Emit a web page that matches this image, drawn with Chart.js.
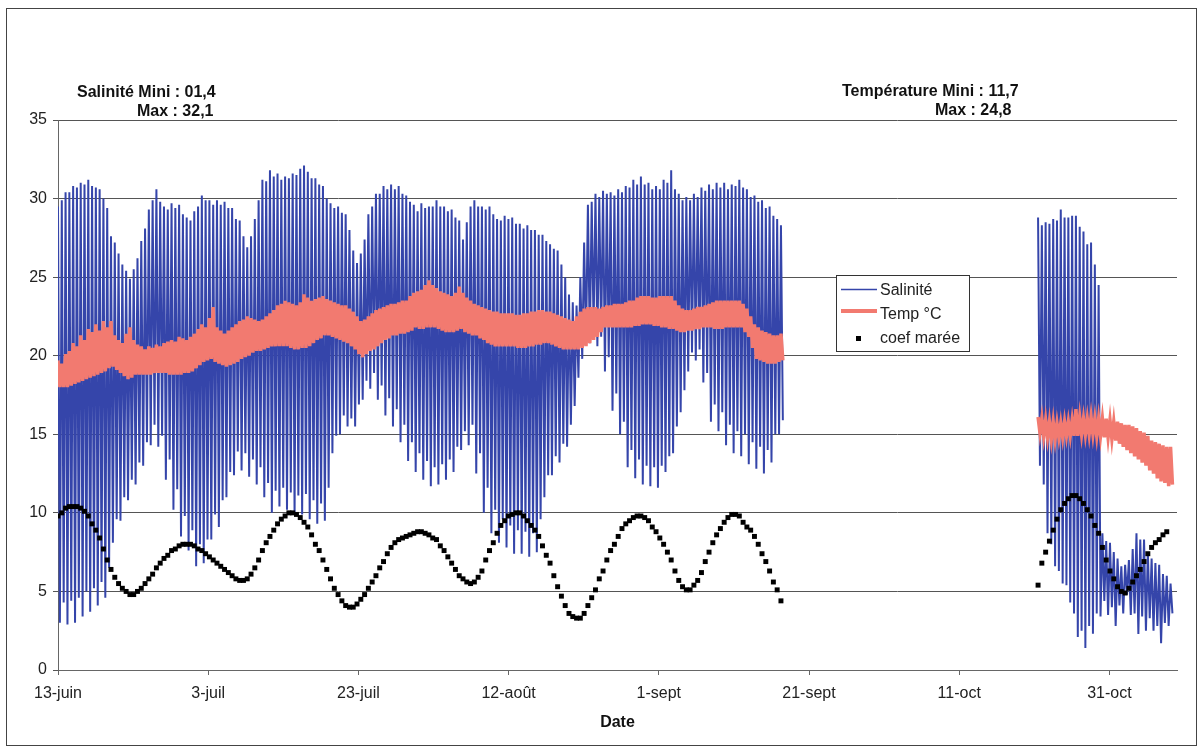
<!DOCTYPE html>
<html>
<head>
<meta charset="utf-8">
<title>Salinité / température</title>
<script src="https://cdn.jsdelivr.net/npm/chart.js@4.4.1/dist/chart.umd.min.js"></script>
<style>
  html, body { margin: 0; padding: 0; background: #fff; }
  #wrap { position: relative; width: 1204px; height: 750px; }
</style>
</head>
<body>
<div id="wrap"><canvas id="chart" width="1204" height="750"></canvas></div>
<script>
// salinity / temperature probe record, with tide coefficient (/10) on the same axis.
// x is in days counted from 13 June. two recording periods, gap in between.

const tickLabels = ["13-juin", "3-juil", "23-juil", "12-août", "1-sept", "21-sept", "11-oct", "31-oct"];

// one value per tide (high water / low water salinity), first period
const salHigh1 = [
  29.5, 29.9, 30.4, 30.4, 30.8, 30.7, 31.0, 30.9, 31.2, 30.8,
  30.7, 30.6, 30.0, 29.4, 27.6, 27.2, 26.5, 25.8, 25.4, 24.9,
  25.5, 26.2, 27.3, 28.1, 29.3, 29.9, 30.6, 29.8, 29.5, 29.3,
  29.7, 29.4, 29.6, 29.0, 28.8, 28.6, 29.2, 29.5, 30.2, 29.9,
  29.9, 29.6, 29.9, 29.6, 29.8, 29.4, 29.4, 28.7, 28.6, 27.6,
  26.9, 27.6, 28.7, 29.9, 31.2, 31.1, 31.8, 31.4, 31.6, 31.2,
  31.4, 31.3, 31.6, 31.5, 31.9, 32.1, 31.7, 31.3, 31.3, 30.9,
  30.8, 30.0, 29.7, 29.4, 29.5, 29.1, 29.0, 28.0, 26.7, 25.9,
  26.5, 27.4, 29.0, 29.5, 30.3, 30.3, 30.8, 30.6, 30.9, 30.6,
  30.8, 30.3, 30.2, 29.8, 29.6, 29.2, 29.7, 29.4, 29.5, 29.5,
  29.9, 29.5, 29.5, 29.2, 29.3, 28.8, 28.6, 27.4, 28.5, 29.5,
  29.9, 29.5, 29.5, 29.3, 29.5, 29.0, 28.7, 28.6, 28.9, 28.7,
  28.8, 28.4, 28.4, 28.1, 28.3, 28.0, 28.0, 27.7, 27.7, 27.3,
  27.1, 26.8, 26.7, 25.8, 25.0, 23.9, 23.4, 23.2, 25.0, 27.2,
  29.6, 29.8, 30.3, 30.1, 30.5, 30.3, 30.4, 30.2, 30.6, 30.4,
  30.8, 30.7, 31.2, 30.9, 31.4, 30.9, 31.0, 30.6, 30.8, 30.6,
  31.2, 31.0, 31.8, 30.6, 30.3, 29.9, 30.1, 29.9, 30.3, 30.1,
  30.7, 30.5, 30.9, 30.6, 31.0, 30.7, 31.0, 30.6, 30.9, 30.8,
  31.2, 30.7, 30.6, 30.1, 30.2, 29.8, 29.9, 29.4, 29.5, 28.9,
  28.7, 28.3
];
const salLow1 = [
  3.0, 4.3, 2.9, 4.4, 3.0, 4.6, 3.4, 5.0, 3.7, 5.2,
  4.1, 5.6, 4.6, 6.5, 8.1, 9.6, 9.5, 11.0, 10.8, 12.1,
  11.8, 13.2, 13.0, 14.5, 14.3, 15.6, 14.2, 14.9, 12.1, 13.4,
  10.2, 11.5, 8.5, 9.8, 7.6, 8.9, 6.6, 8.0, 6.8, 8.3,
  8.3, 9.9, 9.1, 10.8, 11.0, 12.6, 12.4, 13.9, 12.7, 13.8,
  12.3, 13.4, 11.8, 12.9, 11.0, 11.9, 10.0, 11.4, 10.4, 11.6,
  10.2, 11.3, 9.9, 11.1, 9.9, 11.2, 9.6, 10.8, 9.3, 10.6,
  9.5, 11.6, 13.8, 14.9, 15.0, 16.2, 15.5, 16.0, 15.5, 16.9,
  17.2, 18.4, 17.9, 18.9, 17.2, 18.1, 16.2, 17.3, 15.5, 16.6,
  14.5, 15.6, 13.3, 14.5, 12.6, 13.8, 12.1, 13.3, 11.7, 12.9,
  11.8, 13.1, 12.1, 13.4, 12.6, 14.2, 14.0, 15.2, 14.3, 15.6,
  12.5, 13.8, 10.0, 11.6, 8.7, 10.2, 8.1, 9.6, 7.8, 9.2,
  7.4, 8.9, 7.4, 8.8, 7.2, 8.7, 7.5, 9.6, 11.0, 12.4,
  12.4, 13.6, 13.2, 14.4, 14.2, 15.6, 16.8, 18.6, 19.8, 20.8,
  20.8, 21.8, 20.6, 21.2, 19.0, 19.9, 16.5, 17.6, 15.0, 15.8,
  12.9, 14.0, 12.2, 13.4, 11.8, 13.0, 11.7, 12.9, 11.6, 13.0,
  12.6, 13.6, 13.8, 15.5, 16.4, 17.8, 19.0, 20.2, 19.7, 20.4,
  18.3, 18.9, 15.8, 16.9, 15.2, 16.4, 14.3, 15.6, 13.8, 15.2,
  13.6, 15.0, 13.1, 14.5, 12.8, 14.2, 12.5, 14.0, 13.2, 15.0,
  15.0, 15.9
];

// second period
const salHigh2 = [
  28.8, 28.3, 28.5, 28.4, 28.7, 28.6, 29.3, 28.8, 28.8, 28.9,
  28.9, 28.2, 27.9, 27.1, 27.2, 25.8, 24.5, 8.7, 8.2, 8.1,
  7.5, 7.1, 6.6, 6.7, 7.0, 7.7, 8.7, 8.3, 8.3, 7.5,
  7.1, 6.8, 6.7, 6.1, 6.0, 5.5
];
const salLow2 = [
  13.0, 11.8, 8.7, 8.0, 6.6, 6.3, 5.5, 5.4, 4.3, 3.6,
  2.1, 2.5, 1.4, 2.8, 2.3, 3.6, 3.4, 4.4, 3.5, 4.0,
  2.8, 4.1, 3.6, 4.8, 3.5, 3.6, 2.3, 3.4, 2.5, 3.3,
  2.5, 2.8, 1.7, 3.0, 2.8, 3.6
];

// water temperature (°C), one high / low pair per tide
const tempHigh1 = [
  19.7, 19.5, 20.1, 20.3, 20.8, 20.6, 21.3, 21.0, 21.7, 21.5,
  22.0, 21.6, 22.2, 21.8, 22.2, 21.3, 21.0, 20.8, 21.4, 21.8,
  21.0, 20.7, 20.6, 20.4, 20.6, 20.5, 20.7, 20.6, 20.8, 20.9,
  21.0, 20.9, 21.2, 21.1, 21.0, 21.2, 21.4, 21.7, 22.0, 21.8,
  22.4, 23.1, 21.8, 21.6, 21.4, 21.6, 21.8, 22.0, 22.2, 22.3,
  22.5, 22.4, 22.3, 22.2, 22.3, 22.5, 22.7, 22.9, 23.2, 23.3,
  23.5, 23.4, 23.3, 23.2, 23.4, 23.9, 23.7, 23.5, 23.6, 23.7,
  23.8, 23.6, 23.5, 23.4, 23.3, 23.2, 23.2, 23.0, 22.8, 22.5,
  22.2, 22.3, 22.5, 22.7, 22.9, 23.0, 23.1, 23.2, 23.3, 23.3,
  23.4, 23.5, 23.5, 23.8, 24.0, 24.1, 24.2, 24.5, 24.8, 24.5,
  24.3, 24.1, 24.0, 23.9, 23.8, 24.0, 24.4, 24.0, 23.7, 23.5,
  23.3, 23.2, 23.1, 23.0, 22.9, 22.8, 22.8, 22.7, 22.7, 22.7,
  22.7, 22.6, 22.6, 22.7, 22.7, 22.8, 22.8, 22.9, 22.9, 22.8,
  22.8, 22.7, 22.6, 22.5, 22.4, 22.3, 22.2, 22.5, 22.8, 23.0,
  23.1, 23.1, 23.1, 23.0, 23.1, 23.2, 23.2, 23.3, 23.3, 23.3,
  23.4, 23.5, 23.5, 23.7, 23.8, 23.8, 23.8, 23.7, 23.7, 23.8,
  23.8, 23.8, 23.8, 23.5, 23.2, 23.0, 22.9, 22.9, 23.0, 23.1,
  23.1, 23.2, 23.3, 23.4, 23.5, 23.5, 23.5, 23.5, 23.5, 23.5,
  23.5, 23.3, 23.0, 22.5, 22.0, 21.8, 21.6, 21.5, 21.4, 21.3,
  21.3, 21.4
];
const tempLow1 = [
  18.0, 18.0, 18.0, 18.1, 18.2, 18.3, 18.4, 18.5, 18.6, 18.7,
  18.8, 18.9, 19.0, 19.2, 19.3, 19.1, 18.9, 18.7, 18.5, 18.6,
  18.8, 18.8, 18.8, 18.8, 18.8, 18.9, 18.9, 18.9, 18.9, 18.8,
  18.8, 18.8, 18.8, 18.9, 18.9, 19.0, 19.2, 19.4, 19.6, 19.7,
  19.8, 19.6, 19.5, 19.4, 19.3, 19.4, 19.5, 19.6, 19.8, 19.9,
  20.0, 20.2, 20.3, 20.3, 20.4, 20.5, 20.6, 20.6, 20.6, 20.6,
  20.6, 20.5, 20.4, 20.4, 20.5, 20.5, 20.6, 20.8, 21.0, 21.1,
  21.3, 21.3, 21.2, 21.1, 21.0, 20.9, 20.8, 20.6, 20.4, 20.1,
  19.9, 20.1, 20.3, 20.4, 20.6, 20.8, 21.0, 21.1, 21.3, 21.3,
  21.4, 21.4, 21.5, 21.6, 21.8, 21.7, 21.7, 21.8, 21.8, 21.8,
  21.7, 21.6, 21.5, 21.5, 21.5, 21.6, 21.7, 21.5, 21.4, 21.3,
  21.3, 21.1, 21.0, 20.8, 20.7, 20.6, 20.6, 20.6, 20.6, 20.6,
  20.6, 20.5, 20.5, 20.5, 20.6, 20.6, 20.7, 20.7, 20.8, 20.8,
  20.7, 20.6, 20.5, 20.4, 20.4, 20.4, 20.4, 20.4, 20.5, 20.6,
  20.8, 21.0, 21.2, 21.5, 21.8, 21.8, 21.8, 21.8, 21.8, 21.8,
  21.8, 21.8, 21.9, 21.9, 22.0, 22.0, 22.0, 21.9, 21.9, 21.8,
  21.8, 21.7, 21.7, 21.6, 21.5, 21.5, 21.6, 21.6, 21.7, 21.7,
  21.8, 21.8, 21.8, 21.7, 21.7, 21.7, 21.8, 21.8, 21.8, 21.8,
  21.8, 21.5, 21.2, 20.5, 19.8, 19.7, 19.6, 19.5, 19.5, 19.5,
  19.6, 19.7
];
const tempHigh2 = [
  16.1, 16.0, 15.9, 15.8, 15.8, 15.7, 15.7, 15.8, 15.8, 15.9,
  16.6, 16.1, 16.0, 16.0, 16.1, 16.0, 16.0, 16.0, 16.0, 15.9,
  15.8, 15.8, 15.7, 15.6, 15.6, 15.5, 15.4, 15.2, 15.1, 14.9,
  14.6, 14.5, 14.4, 14.3, 14.2, 14.2
];
const tempLow2 = [
  15.1, 14.9, 14.8, 14.7, 14.7, 14.8, 14.8, 14.9, 14.9, 14.9,
  14.9, 15.0, 15.0, 15.0, 15.0, 14.9, 14.9, 14.8, 14.8, 14.7,
  14.6, 14.4, 14.2, 14.0, 13.8, 13.6, 13.4, 13.2, 13.0, 12.7,
  12.5, 12.2, 12.0, 11.9, 11.7, 11.8
];

// tide coefficient / 10, one per tide
const coef1 = [
  9.8, 10.0, 10.3, 10.4, 10.4, 10.4, 10.3, 10.1, 9.8, 9.3,
  8.9, 8.4, 7.7, 7.0, 6.4, 5.9, 5.5, 5.2, 5.0, 4.8,
  4.8, 5.0, 5.2, 5.5, 5.8, 6.1, 6.5, 6.8, 7.1, 7.3,
  7.6, 7.7, 7.9, 8.0, 8.0, 8.0, 7.9, 7.7, 7.6, 7.4,
  7.2, 7.0, 6.8, 6.6, 6.4, 6.2, 6.0, 5.8, 5.7, 5.7,
  5.8, 6.1, 6.5, 7.0, 7.6, 8.1, 8.5, 8.9, 9.3, 9.6,
  9.8, 10.0, 10.0, 9.9, 9.7, 9.4, 9.1, 8.6, 8.0, 7.6,
  7.0, 6.4, 5.8, 5.2, 4.8, 4.4, 4.1, 4.0, 4.0, 4.2,
  4.5, 4.8, 5.2, 5.6, 6.0, 6.5, 6.9, 7.4, 7.8, 8.1,
  8.3, 8.4, 8.5, 8.6, 8.7, 8.8, 8.8, 8.7, 8.6, 8.4,
  8.3, 7.9, 7.6, 7.2, 6.8, 6.4, 6.0, 5.8, 5.6, 5.5,
  5.6, 5.9, 6.3, 7.0, 7.6, 8.1, 8.7, 9.2, 9.5, 9.8,
  9.9, 10.0, 10.0, 9.8, 9.5, 9.2, 8.9, 8.5, 7.9, 7.3,
  6.8, 6.0, 5.3, 4.7, 4.1, 3.6, 3.4, 3.3, 3.3, 3.6,
  4.1, 4.6, 5.1, 5.8, 6.3, 7.0, 7.6, 8.0, 8.5, 9.0,
  9.3, 9.5, 9.7, 9.8, 9.8, 9.7, 9.5, 9.1, 8.8, 8.4,
  8.0, 7.5, 7.0, 6.3, 5.7, 5.3, 5.1, 5.1, 5.4, 5.7,
  6.2, 6.9, 7.5, 8.1, 8.6, 9.0, 9.4, 9.7, 9.9, 9.9,
  9.8, 9.4, 9.1, 8.9, 8.5, 8.0, 7.4, 6.9, 6.3, 5.6,
  5.1, 4.4
];
const coef2 = [
  5.4, 6.8, 7.5, 8.2, 8.9, 9.6, 10.2, 10.6, 10.9, 11.1,
  11.1, 10.9, 10.6, 10.2, 9.8, 9.2, 8.7, 7.8, 7.0, 6.3,
  5.8, 5.3, 5.0, 4.9, 5.2, 5.6, 6.0, 6.4, 6.9, 7.4,
  7.8, 8.1, 8.3, 8.6, 8.8
];

const TIDE = 0.504;       // days between two tides
const START1 = 0;         // 13 juin
const START2 = 130.5;     // second deployment
const GAP = { x: 113, y: null };

const SAL_COLOR = "#3545aa";
const TEMP_COLOR = "#f27a70";

// high water value at t, low water value half a tide later
function tidePoints(start, highs, lows) {
  const pts = [];
  highs.forEach((h, i) => {
    const t = start + i * TIDE;
    pts.push({ x: t, y: h });
    pts.push({ x: t + TIDE / 2, y: lows[i] });
  });
  return pts;
}

function coefPoints(start, vals) {
  return vals.map((v, i) => ({ x: start + i * TIDE, y: v }));
}

const salData = [...tidePoints(START1, salHigh1, salLow1), GAP, ...tidePoints(START2, salHigh2, salLow2)];
const tempData = [...tidePoints(START1, tempHigh1, tempLow1), GAP, ...tidePoints(START2, tempHigh2, tempLow2)];
const coefData = [...coefPoints(START1, coef1), ...coefPoints(START2, coef2)];

// "01,4" style numbers for the min/max notes
const fr = (v) => v.toFixed(1).padStart(4, "0").replace(".", ",");
const salAll = [...salHigh1, ...salLow1, ...salHigh2, ...salLow2];
const tempAll = [...tempHigh1, ...tempLow1, ...tempHigh2, ...tempLow2];

const FONT = '"Liberation Sans", Arial, sans-serif';
Chart.defaults.font.family = FONT;
Chart.defaults.font.size = 16;
Chart.defaults.color = "#222";

// min/max notes, legend box and outer frame
const decor = {
  id: "decor",
  afterDraw(chart) {
    const ctx = chart.ctx;
    ctx.save();

    ctx.strokeStyle = "#444";
    ctx.lineWidth = 1;
    ctx.strokeRect(6.5, 8.5, 1190, 737);

    ctx.fillStyle = "#111";
    ctx.font = "bold 16px " + FONT;
    ctx.textBaseline = "alphabetic";
    ctx.textAlign = "left";
    ctx.fillText("Salinité Mini : " + fr(Math.min(...salAll)), 77, 97);
    ctx.fillText("Max : " + fr(Math.max(...salAll)), 137, 116);
    ctx.fillText("Température Mini : " + fr(Math.min(...tempAll)), 842, 96);
    ctx.fillText("Max : " + fr(Math.max(...tempAll)), 935, 115);

    // legend
    const lx = 836, ly = 275;
    ctx.fillStyle = "#fff";
    ctx.fillRect(lx, ly, 133, 76);
    ctx.strokeStyle = "#333";
    ctx.strokeRect(lx + 0.5, ly + 0.5, 133, 76);

    ctx.strokeStyle = SAL_COLOR;
    ctx.lineWidth = 1.5;
    ctx.beginPath(); ctx.moveTo(841, 289.5); ctx.lineTo(877, 289.5); ctx.stroke();
    ctx.strokeStyle = TEMP_COLOR;
    ctx.lineWidth = 4;
    ctx.beginPath(); ctx.moveTo(841, 311); ctx.lineTo(877, 311); ctx.stroke();
    ctx.fillStyle = "#000";
    ctx.fillRect(856, 336, 5, 5);

    ctx.fillStyle = "#222";
    ctx.font = "16px " + FONT;
    ctx.textBaseline = "middle";
    ctx.fillText("Salinité", 880, 291);
    ctx.fillText("Temp °C", 880, 315);
    ctx.fillText("coef marée", 880, 339);

    ctx.restore();
  },
};

new Chart(document.getElementById("chart"), {
  type: "line",
  data: {
    datasets: [
      {
        label: "Salinité",
        data: salData,
        borderColor: SAL_COLOR,
        borderWidth: 2,
        pointRadius: 0,
        tension: 0,
        spanGaps: false,
        order: 3,
      },
      {
        label: "Temp °C",
        data: tempData,
        borderColor: TEMP_COLOR,
        borderWidth: 3.5,
        pointRadius: 0,
        tension: 0,
        spanGaps: false,
        order: 2,
      },
      {
        label: "coef marée",
        data: coefData,
        showLine: false,
        pointStyle: "rect",
        pointRadius: 3.5,
        pointBorderWidth: 0,
        pointBackgroundColor: "#000",
        borderColor: "#000",
        order: 1,
      },
    ],
  },
  options: {
    responsive: false,
    animation: false,
    layout: { padding: { top: 120, right: 27, bottom: 18, left: 0 } },
    plugins: {
      legend: { display: false },
      tooltip: { enabled: false },
    },
    scales: {
      x: {
        type: "linear",
        min: 0,
        max: 149,
        afterBuildTicks: (s) => { s.ticks = s.ticks.filter((t) => t.value % 20 === 0); },
        afterFit: (s) => { s.height = 62; },
        ticks: {
          stepSize: 20,
          autoSkip: false,
          maxRotation: 0,
          padding: 9,
          color: "#222",
          callback: (v) => tickLabels[v / 20],
        },
        grid: { drawOnChartArea: false, drawTicks: true, tickLength: 5, color: "#666" },
        border: { color: "#666" },
        title: {
          display: true,
          text: "Date",
          color: "#111",
          font: { weight: "bold", size: 16 },
          padding: { top: 0, bottom: 0 },
        },
      },
      y: {
        min: 0,
        max: 35,
        afterFit: (s) => { s.width = 58; },
        ticks: { stepSize: 5, padding: 6, color: "#222" },
        grid: { color: "#555", tickLength: 5 },
        border: { color: "#666" },
      },
    },
  },
  plugins: [decor],
});
</script>
</body>
</html>
